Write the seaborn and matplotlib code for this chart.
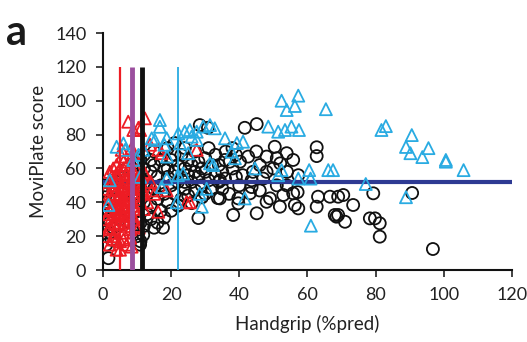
import numpy as np
import pandas as pd
import matplotlib
matplotlib.use("Agg")
import matplotlib.pyplot as plt
import seaborn as sns

# ---------------- data ----------------
black_x = [0.5, 1, 1, 1.5, 1.6, 2, 2, 0.8, 2.5, 1, 2, 3, 3,
           4, 5, 5, 6, 6, 7, 7, 8, 8, 9, 9, 10, 10, 10, 11, 11, 11, 12, 12, 12, 11,
           16, 10.9, 11.8, 18, 17.6, 28, 33.7, 26, 22, 29,
           13, 13, 14, 14, 15, 15, 15, 16, 16, 17, 17, 17, 18, 18, 19, 19, 19, 20, 20, 20,
           21, 21, 21, 22, 22, 22, 23, 23, 23, 24, 24, 24, 25, 25, 25, 26, 26, 27, 27, 27,
           28, 28, 28.4, 29, 29, 29, 30, 30, 30, 30.8, 31, 31, 32, 32, 33, 33, 34, 34, 35, 35,
           34.3, 35.8, 35.8, 37.2, 36, 37, 38, 38, 39, 39,
           41.6, 45.1, 62.7, 62.7, 50.4, 40.2, 45, 48, 51, 53.9, 55.8, 42.6, 43.6, 43.6, 51,
           53.9, 57.3, 34.3, 39.7, 39.7, 43.1, 49, 48, 52.9, 55.8, 51.9, 56.3, 57.3, 57.1,
           38.2, 45.1, 63.1, 66.6, 69, 70.5, 62.7, 73.4, 68, 68.5, 69, 71, 78.3, 79.8, 81.2,
           81.2, 79.3, 90.7, 96.8, 46, 48, 50, 52, 44, 41, 47, 54, 40, 46,
           13, 14, 15, 12, 19, 21, 24, 14]
black_y = [40, 45, 35, 30, 7, 22, 28, 50, 18, 15, 38, 48, 25,
           42, 30, 52, 55, 45, 38, 60, 50, 28, 63, 45, 35, 55, 20, 48, 28, 17, 40, 60, 68, 65,
           28, 15, 20.7, 31, 25, 30.7, 42.5, 39.5, 38.4, 43,
           52, 45, 58, 38, 62, 48, 70, 55, 42, 65, 50, 35, 60, 45, 72, 55, 40, 65, 50, 35,
           58, 45, 75, 62, 52, 38, 68, 55, 42, 60, 48, 72, 56, 44, 65, 52, 62, 58, 47, 70,
           55, 64, 85.6, 50, 43, 60, 58, 66, 45, 84, 53, 72, 62, 48, 56, 68, 52, 62, 58, 48,
           53, 54, 65, 64, 70, 45, 60, 72, 55, 68,
           84, 86.2, 72.5, 67.3, 72.8, 64, 70, 67, 66, 69, 65, 67, 53, 49, 50,
           50, 56, 42.3, 42.3, 39.4, 45.3, 42.3, 40.3, 44.3, 45.3, 37.4, 38.4, 36.4, 46,
           32.5, 33.5, 43.3, 43.3, 43.3, 44.3, 37.4, 38.4, 32.5, 31.5, 32.5, 28.5, 30.5, 30.5, 27.6,
           19.7, 45.3, 45.5, 12.4, 62, 58, 60, 63, 58, 56, 54, 58, 50, 47,
           33, 30, 25, 26, 60, 68, 52, 65]

red_x = [1, 1, 1.5, 2, 2, 2, 2, 2.5, 3, 3, 3, 3, 3, 3.5, 4, 4, 4, 4, 4, 4.5, 5, 5, 5, 5,
         5.5, 6, 6, 6, 6, 6, 6.5, 7, 7, 7, 7, 7.5, 8, 8, 8, 8, 8.5, 9, 9, 9, 9.5, 10, 10,
         10.5, 11, 11, 12, 12, 3, 4, 5, 6, 2, 1, 7, 5,
         1.5, 2.5, 3.5, 4.5, 5.5, 6.5, 7.5, 8.5, 9.5, 1.5, 2.5, 3.5, 4.5, 5.5, 6.5, 7.5,
         8.5, 9.5, 10.5, 2, 3, 4, 5, 6, 7, 8, 9, 10, 3, 4, 5, 6, 7, 8, 9, 4, 6, 8,
         2.5, 4.5, 6.5, 8.5, 3.5, 5.5, 7.5, 9.5, 11.5, 10, 11, 12,
         7.4, 12.3, 10.4, 8.9, 10.9, 5.5, 8.4, 8.9, 16.2, 17.2, 27.5, 12.3, 14.3, 17.2,
         18.7, 16.2, 24.5, 25.5, 8.4, 14, 13, 15, 13.8]
red_y = [20, 30, 40, 15, 25, 35, 45, 55, 18, 28, 38, 48, 60, 22, 12, 32, 42, 52, 62, 27,
         17, 37, 47, 57, 67, 22, 32, 42, 52, 60, 28, 15, 38, 48, 56, 34, 24, 44, 52, 62, 40,
         30, 48, 58, 36, 44, 54, 25, 40, 50, 45, 36, 50, 57, 44, 36, 52, 48, 26, 12,
         33, 43, 33, 33, 41, 45, 42, 48, 52, 24, 31, 27, 38, 50, 37, 29, 33, 42, 46,
         58, 53, 47, 40, 48, 53, 57, 55, 59, 20, 55, 30, 64, 62, 35, 38, 18, 18, 19,
         36, 44, 54, 46, 45, 34, 46, 26, 48, 32, 56, 58,
         87.6, 89.6, 84, 82.7, 82.7, 71, 72, 69, 71, 69, 71, 57, 47, 49,
         47, 34.4, 40, 40, 13.8, 52, 40, 45, 74]

blue_x = [4, 6, 6.5, 2, 1.6, 16.7, 16.7, 14.3, 15.2, 18.7, 11.8, 8.9, 10.4, 10.9,
          22.1, 24, 25.5, 27.5, 29.4, 31.4, 32.8, 26, 27.5, 25, 22.6, 32.3, 35.8, 18.7,
          17.2, 22, 23.5, 28.4, 30.4, 29, 21.6, 18, 18.8, 31.4, 39.3,
          52.4, 57.3, 53.9, 56.3, 65.4, 48.5, 51.4, 53.4, 55.3, 57.5, 41.1, 37.7,
          38.7, 44.6, 51.4, 52.4, 57.3, 60.5, 60.9, 66.1, 67.5, 77.1, 41.6, 61, 81.7, 83,
          90.6, 88.9, 90.2, 95.5, 93.7, 100.6, 100.6, 105.8, 88.9]
blue_y = [72.8, 74.8, 71, 53, 38.4, 88.6, 84.6, 77.8, 76.8, 77.8, 71, 65, 68, 55,
          80.7, 81.7, 82.7, 81.7, 84.7, 85.6, 83.7, 78.8, 76.8, 69, 74.8, 62, 77.8, 54,
          49, 56, 57, 45, 48, 37.4, 40, 74, 67, 63, 75,
          100, 103, 94.5, 96.9, 95, 84.7, 81.7, 82.7, 84.7, 82.7, 75.8, 69.9,
          66, 60, 56, 59, 54, 59, 54, 59, 59, 50.8, 42.3, 26.2, 82.7, 85,
          79.7, 72.7, 69, 72, 66.7, 65, 64, 59, 43]

cutoffs = [5, 8.5, 11.4, 22]
cutoff_colors = ["#ED1C24", "#9B4F9E", "#111111", "#29ABE2"]
cutoff_widths = [1.6, 3.5, 3.5, 1.3]
cutoff_top = 120
mean_score = 52

x_ticks = [0, 20, 40, 60, 80, 100, 120]
y_ticks = [0, 20, 40, 60, 80, 100, 120, 140]

# ---------------- plot ----------------
sns.set_theme(style="white")
plt.rcParams['font.family'] = ['Lato', 'DejaVu Sans']

fig = plt.figure(figsize=(5.27, 3.42), dpi=100)
ax = fig.add_axes([0.1954, 0.2105, 0.7761, 0.693])

df_b = pd.DataFrame({"x": black_x, "y": black_y})
df_r = pd.DataFrame({"x": red_x, "y": red_y})
df_c = pd.DataFrame({"x": blue_x, "y": blue_y})

sns.scatterplot(data=df_b, x="x", y="y", ax=ax, marker="o", s=75,
                facecolors="none", edgecolor="#111111", linewidth=1.3, zorder=2)

ax.hlines(mean_score, 0, 120, color="#2E3A93", linewidth=3, zorder=3)

sns.scatterplot(data=df_r, x="x", y="y", ax=ax, marker="^", s=75,
                facecolors="none", edgecolor="#ED1C24", linewidth=1.3, zorder=4)
sns.scatterplot(data=df_c, x="x", y="y", ax=ax, marker="^", s=75,
                facecolors="none", edgecolor="#29ABE2", linewidth=1.3, zorder=5)

for c, col, lw in zip(cutoffs, cutoff_colors, cutoff_widths):
    ax.vlines(c, 0, cutoff_top, color=col, linewidth=lw, zorder=6)

ax.set_xlim(0, 120)
ax.set_ylim(0, 140)
ax.set_xticks(x_ticks)
ax.set_yticks(y_ticks)
ax.tick_params(axis="both", labelsize=13, colors="#222222", direction="out",
               length=5, width=1.2, bottom=True, left=True, pad=7)
for s in ["top", "right"]:
    ax.spines[s].set_visible(False)
for s in ["left", "bottom"]:
    ax.spines[s].set_color("#111111")
    ax.spines[s].set_linewidth(1.5)
ax.set_xlabel("Handgrip (%pred)", fontsize=13.5, color="#222222", labelpad=9)
ax.set_ylabel("MoviPlate score", fontsize=13.5, color="#222222", labelpad=6)

fig.text(0.012, 0.96, "a", fontsize=30, fontweight="bold", va="top", ha="left",
         color="#1a1a1a")

fig.savefig("out.png", dpi=100)
